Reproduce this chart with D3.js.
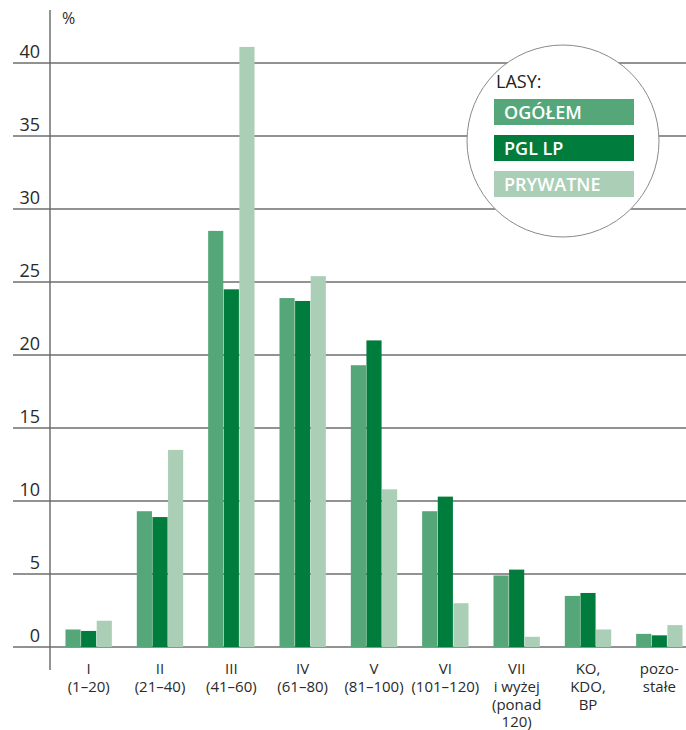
<!DOCTYPE html>
<html>
<head>
<meta charset="utf-8">
<script src="https://cdn.jsdelivr.net/npm/d3@7/dist/d3.min.js"></script>
<style>
  html, body { margin: 0; padding: 0; background: #fff; }
  svg { display: block; font-family: "Open Sans", "Noto Sans", sans-serif; }
</style>
</head>
<body>
<svg id="chart" width="686" height="730"></svg>
<script>
// Age classes of stands (category labels, split into lines)
const categories = ["I", "II", "III", "IV", "V", "VI", "VII", "KO", "poz"];
const categoryLines = [
  ["I", "(1–20)"],
  ["II", "(21–40)"],
  ["III", "(41–60)"],
  ["IV", "(61–80)"],
  ["V", "(81–100)"],
  ["VI", "(101–120)"],
  ["VII", "i wyżej", "(ponad", "120)"],
  ["KO,", "KDO,", "BP"],
  ["pozo-", "stałe"]
];

// Share of area, %
const ogolem   = [1.2, 9.3, 28.5, 23.9, 19.3, 9.3, 4.9, 3.5, 0.9];
const pglLp    = [1.1, 8.9, 24.5, 23.7, 21.0, 10.3, 5.3, 3.7, 0.8];
const prywatne = [1.8, 13.5, 41.1, 25.4, 10.8, 3.0, 0.7, 1.2, 1.5];

const seriesKeys   = ["OGÓŁEM", "PGL LP", "PRYWATNE"];
const seriesValues = [ogolem, pglLp, prywatne];
const seriesColors = ["#55a678", "#007d3c", "#aacfb6"];

const yTicks = [0, 5, 10, 15, 20, 25, 30, 35, 40];

const svg = d3.select("#chart");
const W = 686;
const axisX = 50;

const y = d3.scaleLinear().domain([0, 40]).range([647, 63]);

const x0 = d3.scaleBand()
  .domain(categories)
  .range([53, 695])
  .paddingInner(0.35)
  .paddingOuter(0.175);

const x1 = d3.scaleBand()
  .domain(seriesKeys)
  .range([0, x0.bandwidth()])
  .paddingInner(0.03);

// Horizontal grid lines with value labels
const grid = svg.append("g");
grid.selectAll("line")
  .data(yTicks)
  .join("line")
  .attr("x1", 13)
  .attr("x2", W)
  .attr("y1", d => y(d))
  .attr("y2", d => y(d))
  .attr("stroke", "#6e6e6e")
  .attr("stroke-width", 1.5);

grid.selectAll("text")
  .data(yTicks)
  .join("text")
  .attr("x", 40)
  .attr("y", d => y(d) - 5)
  .attr("text-anchor", "end")
  .attr("font-size", 18)
  .attr("fill", "#2a2a2a")
  .text(d => d);

// Vertical axis line
svg.append("line")
  .attr("x1", axisX).attr("x2", axisX)
  .attr("y1", 10).attr("y2", 670)
  .attr("stroke", "#666")
  .attr("stroke-width", 1.4);

svg.append("text")
  .attr("x", 62)
  .attr("y", 24)
  .attr("font-size", 16)
  .attr("fill", "#2a2a2a")
  .text("%");

// Bars
const groups = svg.append("g")
  .selectAll("g")
  .data(categories)
  .join("g")
  .attr("transform", d => `translate(${x0(d)},0)`);

groups.selectAll("rect")
  .data((d, i) => seriesKeys.map((k, s) => ({ key: k, value: seriesValues[s][i], color: seriesColors[s] })))
  .join("rect")
  .attr("x", d => x1(d.key))
  .attr("width", x1.bandwidth())
  .attr("y", d => y(d.value))
  .attr("height", d => y(0) - y(d.value))
  .attr("fill", d => d.color);

// Category labels
const labels = svg.append("g")
  .selectAll("text")
  .data(categories)
  .join("text")
  .attr("text-anchor", "middle")
  .attr("font-size", 15)
  .attr("fill", "#2a2a2a")
  .attr("transform", d => `translate(${x0(d) + x0.bandwidth() / 2},674)`);

labels.selectAll("tspan")
  .data((d, i) => categoryLines[i])
  .join("tspan")
  .attr("x", 0)
  .attr("y", (d, j) => j * 17.8)
  .text(d => d);

// Legend in a circle
const legend = svg.append("g");
legend.append("circle")
  .attr("cx", 563)
  .attr("cy", 141)
  .attr("r", 96)
  .attr("fill", "#fff")
  .attr("stroke", "#8a8a8a")
  .attr("stroke-width", 1);

legend.append("text")
  .attr("x", 496)
  .attr("y", 88)
  .attr("font-size", 18)
  .attr("fill", "#222")
  .text("LASY:");

const items = legend.selectAll("g.item")
  .data(seriesKeys)
  .join("g")
  .attr("class", "item")
  .attr("transform", (d, i) => `translate(494,${99 + i * 36})`);

items.append("rect")
  .attr("width", 140)
  .attr("height", 26)
  .attr("fill", (d, i) => seriesColors[i]);

items.append("text")
  .attr("x", 10)
  .attr("y", 20)
  .attr("font-size", 18)
  .attr("font-weight", 600)
  .attr("fill", "#fff")
  .text(d => d);
</script>
</body>
</html>
